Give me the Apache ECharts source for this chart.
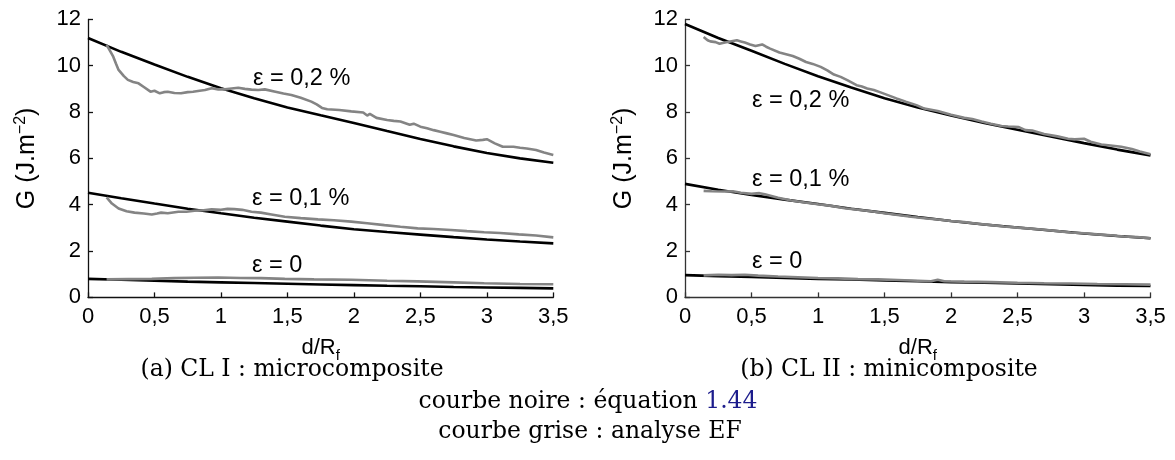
<!DOCTYPE html>
<html><head><meta charset="utf-8">
<script src="https://cdn.jsdelivr.net/npm/echarts@6/dist/echarts.min.js"></script>
<style>html,body{margin:0;padding:0;background:#fff}#c{width:1175px;height:460px}</style>
</head><body><div id="c"></div>
<script>
// ---- data ----
const xTicks = [0, 0.5, 1, 1.5, 2, 2.5, 3, 3.5];
const xTickLabels = ['0', '0,5', '1', '1,5', '2', '2,5', '3', '3,5'];
const yTickLabels = ['0', '2', '4', '6', '8', '10', '12'];
const xs = [0, 0.25, 0.5, 0.75, 1, 1.25, 1.5, 1.75, 2, 2.25, 2.5, 2.75, 3, 3.25, 3.5];

// black curves (équation 1.44)
const blackL02 = [11.2, 10.6, 10.05, 9.52, 9.03, 8.6, 8.2, 7.86, 7.53, 7.18, 6.84, 6.52, 6.23, 6.0, 5.81];
const blackL01 = [4.52, 4.28, 4.05, 3.83, 3.63, 3.44, 3.27, 3.1, 2.94, 2.82, 2.71, 2.6, 2.5, 2.41, 2.33];
const blackL00 = [0.8, 0.76, 0.72, 0.68, 0.65, 0.62, 0.59, 0.56, 0.53, 0.5, 0.48, 0.45, 0.43, 0.41, 0.39];
const blackR02 = [11.8, 11.2, 10.65, 10.08, 9.55, 9.06, 8.6, 8.2, 7.85, 7.53, 7.24, 6.95, 6.66, 6.38, 6.13];
const blackR01 = [4.9, 4.65, 4.42, 4.22, 4.03, 3.83, 3.65, 3.47, 3.3, 3.15, 3.02, 2.89, 2.76, 2.65, 2.55];
const blackR00 = [0.96, 0.92, 0.88, 0.84, 0.8, 0.77, 0.73, 0.7, 0.66, 0.63, 0.6, 0.57, 0.54, 0.51, 0.49];

// grey curves (analyse EF) as [d/Rf, G]
const greyL02 = [[0.14,10.9],[0.17,10.6],[0.19,10.39],[0.21,10.1],[0.23,9.82],[0.27,9.55],[0.30,9.39],[0.34,9.3],[0.38,9.24],[0.42,9.08],[0.47,8.88],[0.50,8.92],[0.54,8.81],[0.57,8.86],[0.60,8.88],[0.65,8.82],[0.70,8.81],[0.75,8.86],[0.79,8.88],[0.84,8.92],[0.88,8.95],[0.93,9.03],[0.98,8.98],[1.03,8.98],[1.08,9.02],[1.13,9.05],[1.18,9.0],[1.23,8.97],[1.28,8.95],[1.33,8.98],[1.41,8.88],[1.47,8.8],[1.53,8.74],[1.6,8.62],[1.68,8.45],[1.72,8.33],[1.76,8.18],[1.8,8.12],[1.89,8.09],[1.98,8.03],[2.07,7.98],[2.1,7.85],[2.12,7.92],[2.17,7.75],[2.25,7.66],[2.3,7.62],[2.35,7.59],[2.42,7.45],[2.45,7.5],[2.5,7.37],[2.55,7.3],[2.6,7.22],[2.65,7.15],[2.7,7.08],[2.75,7.01],[2.83,6.88],[2.92,6.77],[2.97,6.8],[3.0,6.83],[3.06,6.65],[3.12,6.5],[3.2,6.5],[3.25,6.46],[3.3,6.43],[3.37,6.36],[3.43,6.25],[3.5,6.15]];
const greyL01 = [[0.14,4.32],[0.18,4.05],[0.23,3.84],[0.29,3.72],[0.35,3.66],[0.42,3.62],[0.48,3.58],[0.52,3.62],[0.55,3.66],[0.6,3.63],[0.68,3.70],[0.74,3.7],[0.8,3.74],[0.87,3.76],[0.93,3.8],[1.0,3.78],[1.05,3.82],[1.1,3.81],[1.16,3.78],[1.23,3.7],[1.3,3.66],[1.38,3.58],[1.48,3.48],[1.6,3.42],[1.73,3.37],[1.85,3.33],[1.98,3.27],[2.1,3.2],[2.23,3.12],[2.35,3.05],[2.48,2.98],[2.6,2.95],[2.73,2.91],[2.85,2.86],[2.98,2.81],[3.1,2.78],[3.24,2.72],[3.37,2.67],[3.5,2.59]];
const greyL00 = [[0.14,0.78],[0.3,0.79],[0.48,0.8],[0.65,0.83],[0.8,0.85],[0.98,0.86],[1.15,0.84],[1.3,0.83],[1.48,0.8],[1.7,0.78],[1.98,0.76],[2.25,0.72],[2.48,0.69],[2.75,0.65],[2.98,0.61],[3.25,0.58],[3.5,0.57]];
const greyR02 = [[0.14,11.24],[0.17,11.1],[0.19,11.05],[0.23,11.02],[0.26,10.95],[0.3,11.0],[0.34,11.05],[0.39,11.1],[0.42,11.05],[0.45,11.0],[0.49,10.92],[0.53,10.85],[0.58,10.92],[0.61,10.82],[0.64,10.74],[0.71,10.57],[0.76,10.5],[0.81,10.42],[0.86,10.3],[0.91,10.16],[0.96,10.08],[1.02,9.95],[1.07,9.8],[1.12,9.62],[1.17,9.52],[1.22,9.38],[1.29,9.16],[1.33,9.1],[1.37,9.02],[1.42,8.95],[1.47,8.85],[1.53,8.72],[1.59,8.59],[1.66,8.45],[1.74,8.3],[1.8,8.15],[1.9,8.05],[2.0,7.88],[2.1,7.75],[2.16,7.7],[2.23,7.59],[2.3,7.5],[2.38,7.4],[2.43,7.38],[2.51,7.35],[2.56,7.22],[2.61,7.2],[2.7,7.05],[2.8,6.95],[2.88,6.85],[2.93,6.82],[3.0,6.85],[3.05,6.72],[3.13,6.6],[3.2,6.56],[3.28,6.5],[3.36,6.41],[3.42,6.3],[3.5,6.18]];
const greyR01 = [[0.14,4.6],[0.2,4.58],[0.29,4.57],[0.36,4.58],[0.42,4.52],[0.5,4.47],[0.56,4.5],[0.6,4.45],[0.7,4.3],[0.8,4.18],[0.9,4.1],[1.0,4.02],[1.1,3.95],[1.2,3.85],[1.3,3.78],[1.4,3.72],[1.5,3.63],[1.6,3.56],[1.7,3.48],[1.8,3.42],[1.9,3.36],[2.0,3.3],[2.1,3.25],[2.2,3.18],[2.3,3.12],[2.4,3.06],[2.5,3.01],[2.6,2.97],[2.7,2.92],[2.8,2.86],[2.9,2.8],[3.0,2.77],[3.1,2.72],[3.2,2.68],[3.3,2.63],[3.4,2.6],[3.5,2.55]];
const greyR00 = [[0.14,0.95],[0.25,0.98],[0.35,0.96],[0.45,0.98],[0.55,0.94],[0.7,0.9],[0.85,0.87],[1.0,0.84],[1.15,0.82],[1.3,0.79],[1.45,0.78],[1.6,0.75],[1.75,0.72],[1.85,0.7],[1.9,0.76],[1.95,0.7],[2.1,0.68],[2.3,0.66],[2.5,0.63],[2.7,0.61],[2.9,0.6],[3.1,0.58],[3.3,0.57],[3.5,0.55]];

const curveLabels = ['ε = 0,2 %', 'ε = 0,1 %', 'ε = 0'];
const captions = ['(a) CL I : microcomposite', '(b) CL II : minicomposite'];
const legendLines = ['courbe noire : équation ', '1.44', 'courbe grise : analyse EF'];

// ---- chart ----
const SANS = '"Liberation Sans", Arial, sans-serif';
const SERIF = '"DejaVu Serif", "Liberation Serif", serif';
const chart = echarts.init(document.getElementById('c'), null, {renderer: 'canvas'});

function zip(v) { return xs.map((x, i) => [x, v[i]]); }

function xAxisCfg(gi, color) {
  return {
    type: 'value', gridIndex: gi, min: 0, max: 3.5, interval: 0.5,
    axisLine: {show: true, lineStyle: {color: color, width: 1.3}},
    axisTick: {show: true, inside: true, length: 5, lineStyle: {color: color, width: 1.3}},
    splitLine: {show: false},
    axisLabel: {color: '#000', fontSize: 22, fontFamily: SANS, margin: 9,
      formatter: v => { const i = xTicks.findIndex(t => Math.abs(t - v) < 1e-6); return i >= 0 ? xTickLabels[i] : ''; }},
    name: '{a|d/R}{b|f}', nameLocation: 'middle', nameGap: 36,
    nameTextStyle: {rich: {
      a: {fontSize: 22, fontFamily: SANS, color: '#000'},
      b: {fontSize: 15, fontFamily: SANS, color: '#000', padding: [15, 0, 0, 0]}
    }}
  };
}
function yAxisCfg(gi, color) {
  return {
    type: 'value', gridIndex: gi, min: 0, max: 12, interval: 2,
    axisLine: {show: true, lineStyle: {color: color, width: 1.3}},
    axisTick: {show: true, inside: true, length: 5, lineStyle: {color: color, width: 1.3}},
    splitLine: {show: false},
    axisLabel: {color: '#000', fontSize: 22, fontFamily: SANS, margin: 7,
      formatter: v => yTickLabels[Math.round(v / 2)]},
    name: '{a|G (J.m}{b|−2}{a|)}', nameLocation: 'middle', nameGap: 46, nameRotate: 90,
    nameTextStyle: {rich: {
      a: {fontSize: 25, fontFamily: SANS, color: '#000'},
      b: {fontSize: 16, fontFamily: SANS, color: '#000', padding: [0, 0, 13, 0]}
    }}
  };
}
function line(gi, data, color, z) {
  return {type: 'line', xAxisIndex: gi, yAxisIndex: gi, data: data, showSymbol: false, symbol: 'none',
    smooth: false, lineStyle: {color: color, width: 2.6}, z: z, animation: false};
}

const labelPos = [
  [[253, 80], [252, 200], [252, 267]],
  [[752, 102], [752, 181], [752, 263]]
];
const graphics = [];
labelPos.forEach(p => p.forEach((xy, k) => graphics.push({type: 'text', left: xy[0], top: xy[1] - 13,
  style: {text: curveLabels[k], font: '23.5px ' + SANS, fill: '#000'}})));
const CF = '23.5px ' + SERIF;
graphics.push({type: 'text', x: 292, y: 370, style: {text: captions[0], font: CF, fill: '#000', textAlign: 'center', textVerticalAlign: 'middle'}});
graphics.push({type: 'text', x: 889, y: 370, style: {text: captions[1], font: CF, fill: '#000', textAlign: 'center', textVerticalAlign: 'middle'}});
graphics.push({type: 'text', x: 588, y: 402, style: {text: legendLines[0] + '{b|' + legendLines[1] + '}', font: CF, fill: '#000', textAlign: 'center', textVerticalAlign: 'middle',
  rich: {b: {fill: '#1c1c8c', font: CF}}}});
graphics.push({type: 'text', x: 590, y: 432, style: {text: legendLines[2], font: CF, fill: '#000', textAlign: 'center', textVerticalAlign: 'middle'}});

chart.setOption({
  animation: false,
  backgroundColor: '#fff',
  grid: [
    {left: 88, top: 19.4, width: 465.3, height: 278, containLabel: false},
    {left: 685, top: 19.4, width: 465.5, height: 278, containLabel: false}
  ],
  xAxis: [xAxisCfg(0, '#111'), xAxisCfg(1, '#333')],
  yAxis: [yAxisCfg(0, '#111'), yAxisCfg(1, '#333')],
  series: [
    line(0, zip(blackL02), '#000', 2), line(0, zip(blackL01), '#000', 2), line(0, zip(blackL00), '#000', 2),
    line(0, greyL02, '#848484', 3), line(0, greyL01, '#848484', 3), line(0, greyL00, '#848484', 3),
    line(1, zip(blackR02), '#000', 2), line(1, zip(blackR01), '#000', 2), line(1, zip(blackR00), '#000', 2),
    line(1, greyR02, '#848484', 3), line(1, greyR01, '#848484', 3), line(1, greyR00, '#848484', 3)
  ],
  graphic: graphics
});
</script>
</body></html>
